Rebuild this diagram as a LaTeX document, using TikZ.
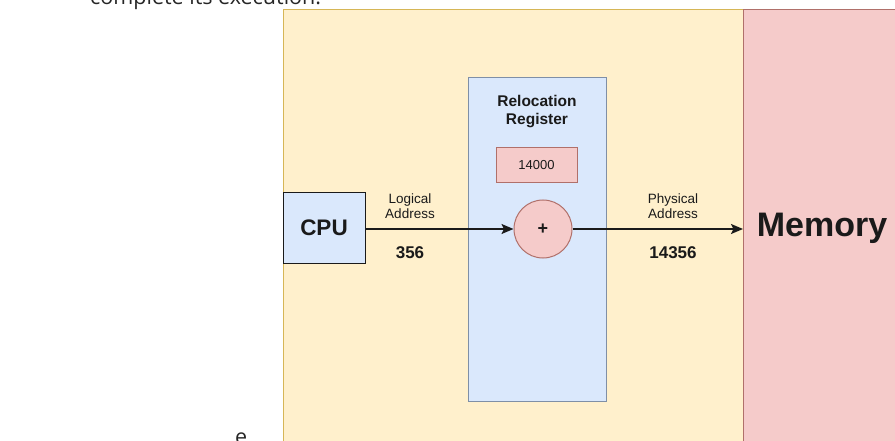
\documentclass[tikz,border=0pt]{standalone}
\usepackage{fontspec}
\setmainfont{Liberation Sans}
\newfontfamily\pagefont{Open Sans}
\usetikzlibrary{arrows.meta}
\definecolor{yfill}{HTML}{FFF0CC}
\definecolor{yline}{HTML}{D6B656}
\definecolor{bfill}{HTML}{DAE8FC}
\definecolor{bline}{HTML}{7F8FA6}
\definecolor{rfill}{HTML}{F5CBCA}
\definecolor{rline}{HTML}{B0706A}
\definecolor{ink}{HTML}{1A1A1A}
\tikzset{
  region/.style={draw, line width=1pt, anchor=north west, inner sep=0pt},
  boxnode/.style={draw, line width=1pt, inner sep=0pt},
  lbl/.style={text=ink, align=center, inner sep=0pt, font=\fontsize{13.5}{14.5}\selectfont},
  num/.style={text=ink, inner sep=0pt, font=\bfseries\fontsize{17}{19}\selectfont},
  conn/.style={line width=1.6pt, draw=ink, -{Stealth[length=12pt,width=10pt,inset=2.5pt]}},
  pagetext/.style={anchor=base west, inner sep=0pt, text=black!85, font=\pagefont\fontsize{21.5}{24}\selectfont},
}
\begin{document}
\begin{tikzpicture}[x=1pt,y=-1pt]
\useasboundingbox (0,0) rectangle (895,441);
\clip (0,0) rectangle (895,441);
% page text fragments
\node[pagetext] (toptext) at (90,4.5) {complete its execution.};
\node[pagetext] (bottomtext) at (235,444) {e};
% containers
\node[region, fill=yfill, draw=yline, minimum width=477pt, minimum height=451pt] (host) at (283,9) {};
\node[region, fill=rfill, draw=rline, minimum width=167pt, minimum height=451pt] (mem) at (743,9) {};
\node[text=ink, inner sep=0pt, font=\bfseries\fontsize{34}{36}\selectfont] (memlabel) at (822,228) {Memory};
% relocation register
\node[boxnode, fill=bfill, draw=bline, minimum width=138pt, minimum height=323pt] (reloc) at (537,239.5) {};
\node[lbl, font=\bfseries\fontsize{15.5}{17.5}\selectfont] (reloctitle) at (537,111.5) {Relocation\\Register};
\node[boxnode, fill=rfill, draw=rline, minimum width=81pt, minimum height=35pt, text=ink, font=\fontsize{13}{15}\selectfont] (regval) at (536.5,165.5) {14000};
\node[boxnode, circle, fill=rfill, draw=rline, minimum size=58pt, text=ink, font=\bfseries\fontsize{18}{20}\selectfont] (adder) at (543,229) {+};
% CPU
\node[boxnode, fill=bfill, draw=ink, minimum width=82pt, minimum height=70pt, text=ink, font=\bfseries\fontsize{22.5}{24}\selectfont] (cpu) at (324,228) {CPU};
% labels
\node[lbl] (logical) at (410,206) {Logical\\Address};
\node[num] (lognum) at (410,253) {356};
\node[lbl] (physical) at (673,206) {Physical\\Address};
\node[num] (physnum) at (673,253) {14356};
% connectors
\draw[conn] (cpu.east |- adder.west) -- (adder.west);
\draw[conn] (adder.east) -- (adder.east -| mem.west);
\end{tikzpicture}
\end{document}
